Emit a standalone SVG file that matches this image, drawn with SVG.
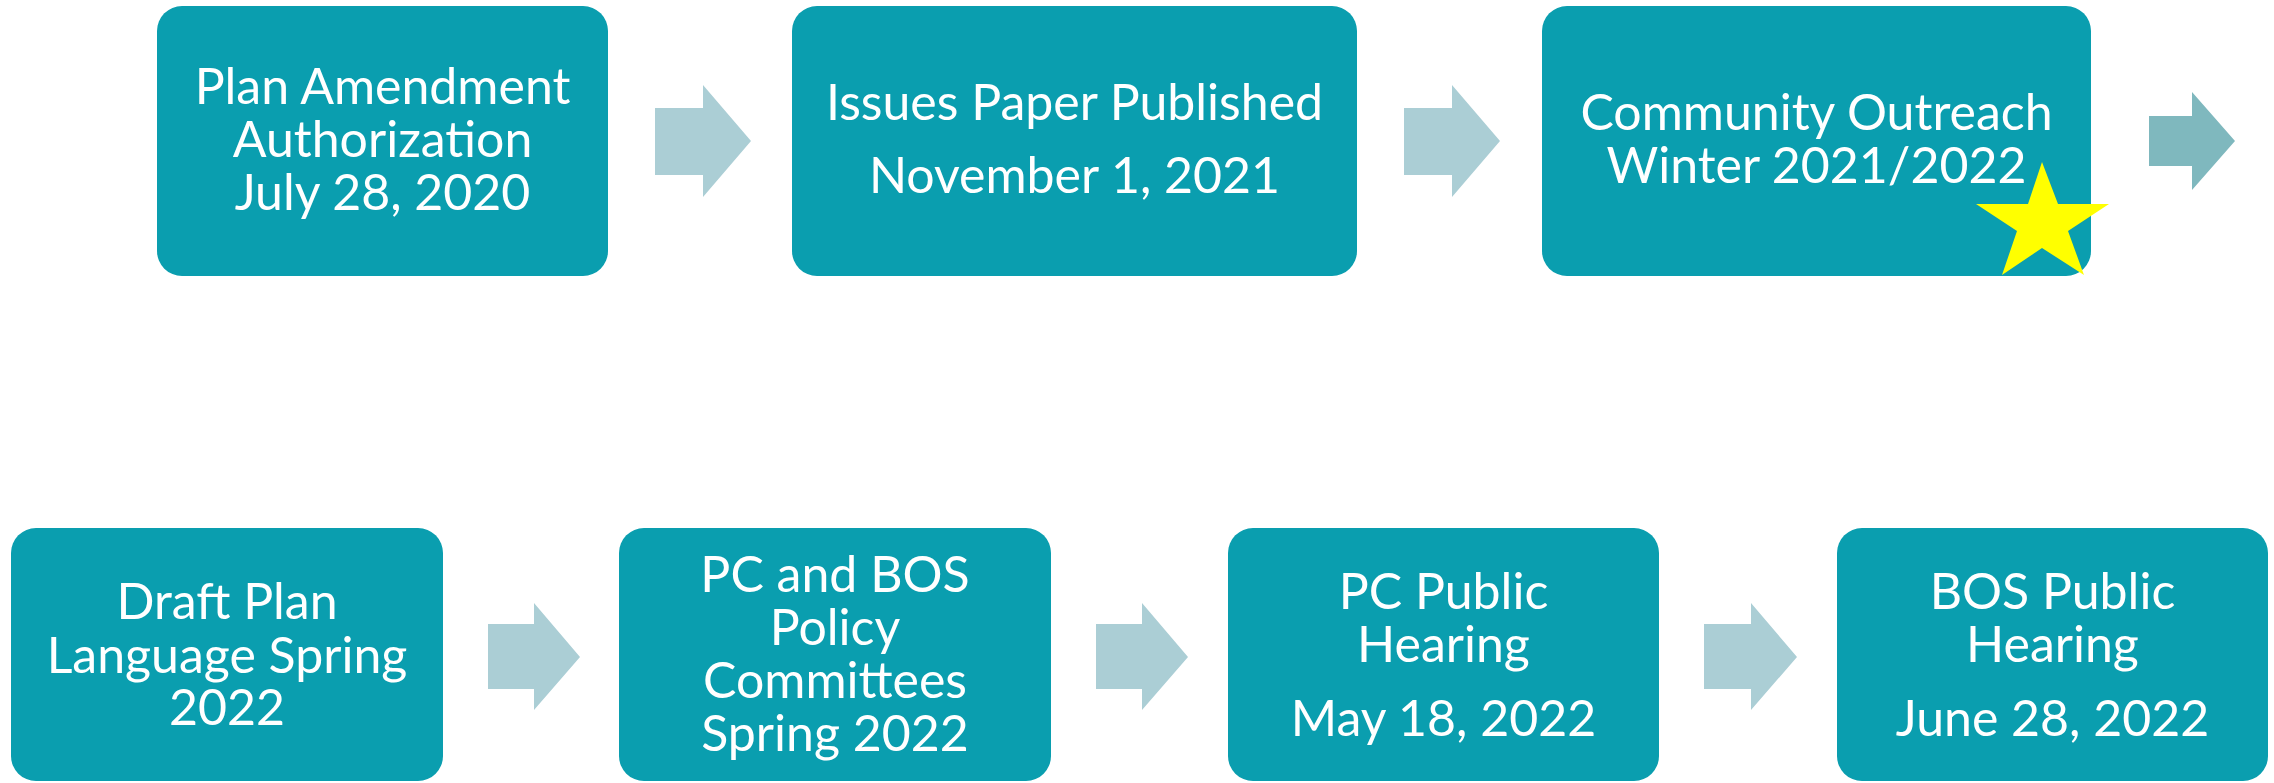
<svg xmlns="http://www.w3.org/2000/svg" width="2274" height="783" viewBox="0 0 2274 783">
<style>
.box{fill:#0A9EAF}
.t{font-family:Lato,"Open Sans","Liberation Sans",sans-serif;font-size:50px;fill:#FFFFFF;text-anchor:middle}
.arr{fill:#ABCED5}
.arr2{fill:#7FB8BE}
</style>
<rect width="2274" height="783" fill="#FFFFFF"/>
<g id="connectors">
<polygon class="arr" points="655,108 703,108 703,85 751,141 703,197 703,175 655,175"/>
<polygon class="arr" points="1404,108 1452,108 1452,85 1500,141 1452,197 1452,175 1404,175"/>
<polygon class="arr2" points="2149,116 2192,116 2192,92 2235,141 2192,190 2192,166 2149,166"/>
<polygon class="arr" points="488,624 534,624 534,603 580,657 534,710 534,689 488,689"/>
<polygon class="arr" points="1096,624 1142,624 1142,603 1188,657 1142,710 1142,689 1096,689"/>
<polygon class="arr" points="1704,624 1751,624 1751,603 1797,657 1751,710 1751,689 1704,689"/>
</g>
<g id="n1">
<rect class="box" x="157" y="6" width="451" height="270" rx="25" ry="25"/>
<text class="t" x="382.5" y="104">Plan Amendment</text>
<text class="t" x="382.5" y="157">Authorization</text>
<text class="t" x="382.5" y="210">July 28, 2020</text>
</g>
<g id="n2">
<rect class="box" x="792" y="6" width="565" height="270" rx="25" ry="25"/>
<text class="t" x="1074.5" y="120">Issues Paper Published</text>
<text class="t" x="1074.5" y="193">November 1, 2021</text>
</g>
<g id="n3">
<rect class="box" x="1542" y="6" width="549" height="270" rx="25" ry="25"/>
<text class="t" x="1816.5" y="130">Community Outreach</text>
<text class="t" x="1816.5" y="183">Winter 2021/2022</text>
<polygon fill="#FFFF00" points="2042,162 2058,204 2109,204 2068,231 2084,275 2042,248 2002,275 2017,231 1976,204 2028,204"/>
</g>
<g id="n4">
<rect class="box" x="11" y="528" width="432" height="253" rx="25" ry="25"/>
<text class="t" x="227" y="619">Draft Plan</text>
<text class="t" x="227" y="673">Language Spring</text>
<text class="t" x="227" y="725">2022</text>
</g>
<g id="n5">
<rect class="box" x="619" y="528" width="432" height="253" rx="25" ry="25"/>
<text class="t" x="835" y="592">PC and BOS</text>
<text class="t" x="835" y="645">Policy</text>
<text class="t" x="835" y="698">Committees</text>
<text class="t" x="835" y="751">Spring 2022</text>
</g>
<g id="n6">
<rect class="box" x="1228" y="528" width="431" height="253" rx="25" ry="25"/>
<text class="t" x="1443.5" y="609">PC Public</text>
<text class="t" x="1443.5" y="662">Hearing</text>
<text class="t" x="1443.5" y="736">May 18, 2022</text>
</g>
<g id="n7">
<rect class="box" x="1837" y="528" width="431" height="253" rx="25" ry="25"/>
<text class="t" x="2052.5" y="609">BOS Public</text>
<text class="t" x="2052.5" y="662">Hearing</text>
<text class="t" x="2052.5" y="736">June 28, 2022</text>
</g>
</svg>
